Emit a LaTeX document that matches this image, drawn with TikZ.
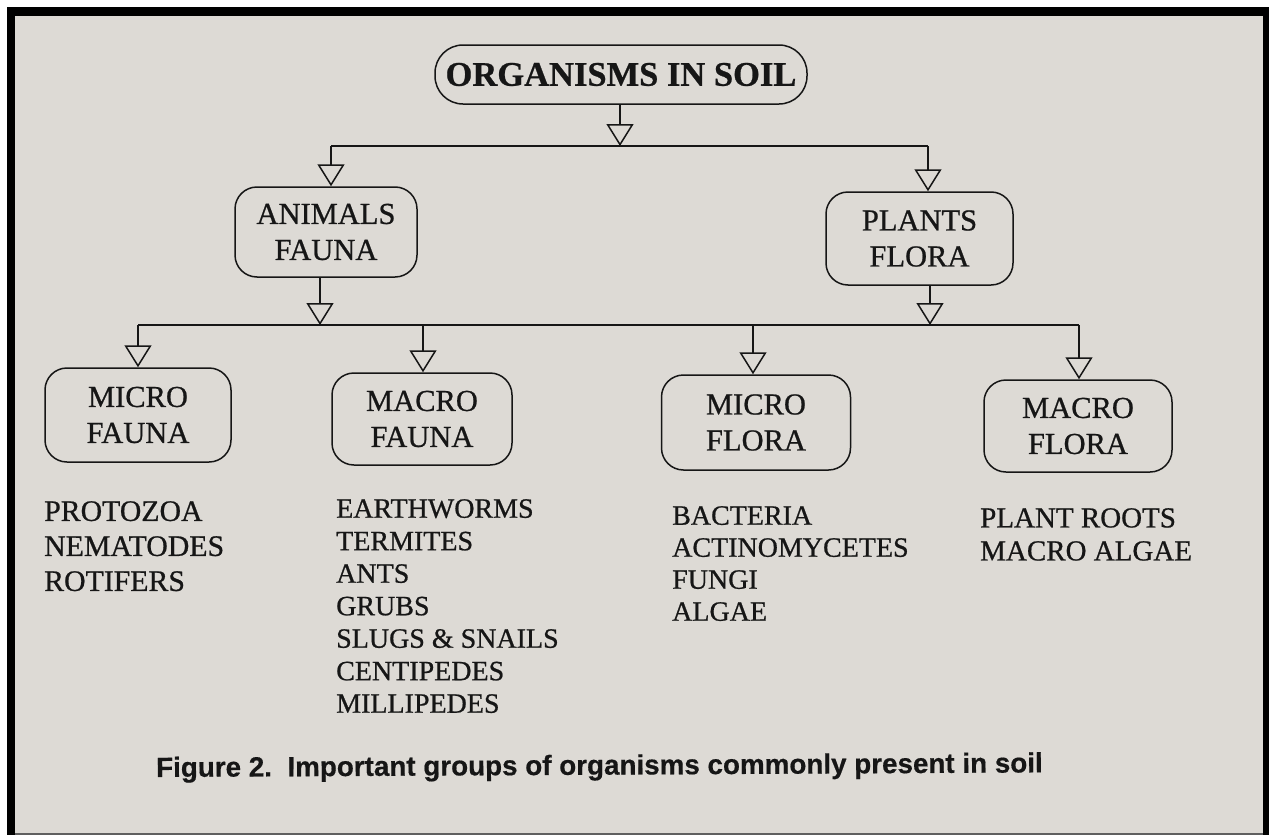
\documentclass[tikz,border=0pt]{standalone}
\usepackage{fontspec}
\setmainfont{Liberation Serif}[RawFeature={embolden=0.7}]
\newfontfamily\capfont{Liberation Sans}[RawFeature={embolden=0.5}]
\usetikzlibrary{arrows.meta}
\definecolor{paper}{RGB}{221,218,213}
\definecolor{ink}{RGB}{22,22,22}
\definecolor{edge}{RGB}{95,95,95}
\begin{document}
\begin{tikzpicture}[x=1pt,y=-1pt,
  box/.style={draw=ink, line width=1.5pt, rounded corners=22pt, inner sep=0pt,
    align=center, text=ink, font=\fontsize{30.5}{36}\selectfont},
  tri/.style={draw=ink, line width=1.5pt, -{Triangle[open,length=22pt,width=27pt]}},
  link/.style={draw=ink, line width=1.5pt},
  listtext/.style={anchor=north west, align=left, inner sep=0pt, text=ink}]
\useasboundingbox (0,0) rectangle (1269,835);
\fill[white] (0,0) rectangle (1269,835);
\fill[black] (7,7) rectangle (1269,835);
\fill[paper] (15,16) rectangle (1263,833);
\fill[edge] (15,833) rectangle (1263,835);

% boxes
\node[box, rounded corners=28pt, minimum width=372pt, minimum height=59pt,
  font=\bfseries\fontsize{34.5}{40}\selectfont] (title) at (621,74.5) {ORGANISMS IN SOIL};
\node[box, minimum width=182pt, minimum height=90pt] (animals) at (326,232) {ANIMALS\\FAUNA};
\node[box, minimum width=187pt, minimum height=93pt] (plants) at (919.5,238.5) {PLANTS\\FLORA};
\node[box, minimum width=186pt, minimum height=94pt] (mfauna) at (138,415) {MICRO\\FAUNA};
\node[box, minimum width=180pt, minimum height=92pt] (Mfauna) at (422,419) {MACRO\\FAUNA};
\node[box, minimum width=189pt, minimum height=95pt] (mflora) at (756,422.5) {MICRO\\FLORA};
\node[box, minimum width=188pt, minimum height=92pt] (Mflora) at (1078,426) {MACRO\\FLORA};

% junctions
\coordinate (jT) at (620,146);
\coordinate (jL) at (331,146);
\coordinate (jR) at (928,146);
\coordinate (kA) at (320,325);
\coordinate (kP) at (930,325);
\coordinate (k1) at (138,325);
\coordinate (k2) at (423,325);
\coordinate (k3) at (753,325);
\coordinate (k4) at (1079,325);

% connectors
\draw[tri] (title.south -| jT) -- (jT);
\draw[link] (jL) -- (jR);
\draw[tri] (jL) -- (jL |- animals.north);
\draw[tri] (jR) -- (jR |- plants.north);
\draw[tri] (animals.south -| kA) -- (kA);
\draw[tri] (plants.south -| kP) -- (kP);
\draw[link] (k1) -- (k4);
\draw[tri] (k1) -- (k1 |- mfauna.north);
\draw[tri] (k2) -- (k2 |- Mfauna.north);
\draw[tri] (k3) -- (k3 |- mflora.north);
\draw[tri] (k4) -- (k4 |- Mflora.north);

% lists
\node[listtext, font=\fontsize{29.8}{35}\selectfont] (lmf) at (44,501)
  {PROTOZOA\\NEMATODES\\ROTIFERS};
\node[listtext, font=\fontsize{28}{32.5}\selectfont] (lMf) at (336,499)
  {EARTHWORMS\\TERMITES\\ANTS\\GRUBS\\SLUGS \& SNAILS\\CENTIPEDES\\MILLIPEDES};
\node[listtext, font=\fontsize{28}{32}\selectfont] (lmfl) at (672,506)
  {BACTERIA\\ACTINOMYCETES\\FUNGI\\ALGAE};
\node[listtext, font=\fontsize{29}{33}\selectfont] (lMfl) at (980,508)
  {PLANT ROOTS\\MACRO ALGAE};

% caption
\node[anchor=base west, inner sep=0pt, rotate=0.3, text=ink,
  font=\capfont\bfseries\fontsize{27.8}{30}\selectfont] (cap) at (156,777)
  {Figure 2.\ \ Important groups of organisms commonly present in soil};
\end{tikzpicture}
\end{document}
